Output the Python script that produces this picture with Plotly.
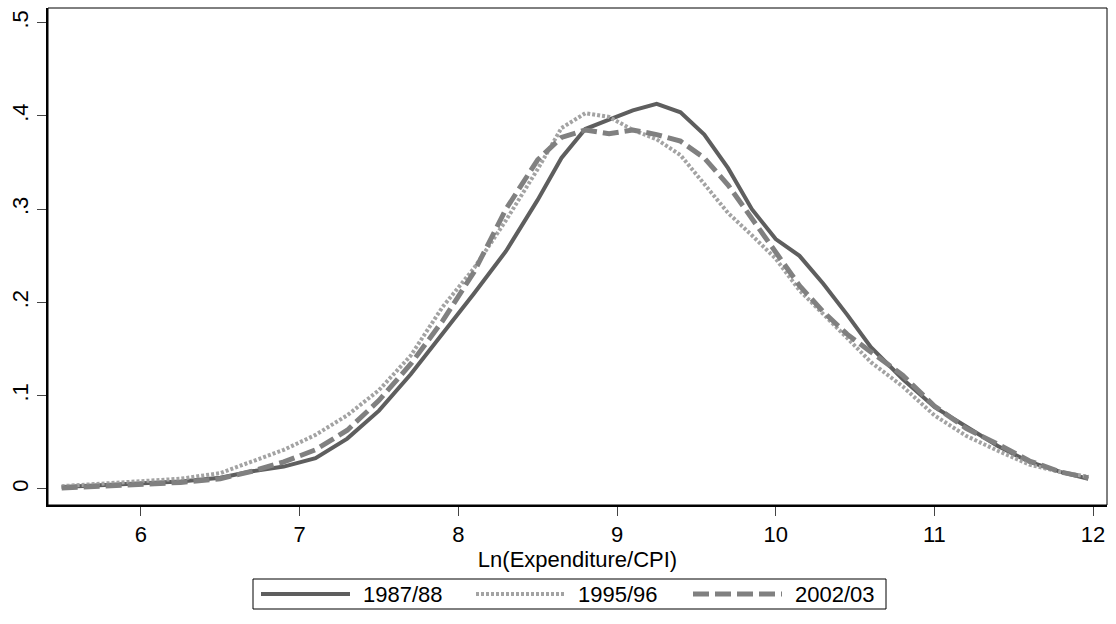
import plotly.graph_objects as go

# Kernel density estimates of log real expenditure by survey round
ln_exp = [5.5, 5.75, 6.0, 6.25, 6.5, 6.7, 6.9, 7.1, 7.3, 7.5, 7.7, 7.9, 8.1, 8.3,
          8.5, 8.65, 8.8, 8.95, 9.1, 9.25, 9.4, 9.55, 9.7, 9.85, 10.0, 10.15,
          10.3, 10.45, 10.6, 10.8, 11.0, 11.2, 11.4, 11.6, 11.8, 11.97]

dens_1987 = [0.002, 0.004, 0.006, 0.008, 0.012, 0.019, 0.024, 0.033, 0.054, 0.084,
             0.123, 0.166, 0.210, 0.255, 0.310, 0.355, 0.386, 0.396, 0.406, 0.413,
             0.404, 0.380, 0.344, 0.300, 0.268, 0.250, 0.220, 0.187, 0.152, 0.118,
             0.088, 0.067, 0.046, 0.029, 0.018, 0.011]

dens_1995 = [0.003, 0.006, 0.008, 0.011, 0.017, 0.029, 0.042, 0.058, 0.079, 0.106,
             0.143, 0.195, 0.237, 0.288, 0.343, 0.387, 0.403, 0.399, 0.385, 0.375,
             0.358, 0.327, 0.296, 0.272, 0.247, 0.213, 0.188, 0.162, 0.136, 0.110,
             0.079, 0.057, 0.041, 0.026, 0.018, 0.013]

dens_2002 = [0.001, 0.003, 0.005, 0.007, 0.011, 0.019, 0.029, 0.042, 0.063, 0.095,
             0.134, 0.180, 0.233, 0.300, 0.353, 0.377, 0.385, 0.381, 0.385, 0.380,
             0.373, 0.355, 0.326, 0.290, 0.255, 0.218, 0.190, 0.166, 0.147, 0.122,
             0.089, 0.065, 0.048, 0.030, 0.018, 0.012]

series_names = ["1987/88", "1995/96", "2002/03"]

y_ticks = [0, 0.1, 0.2, 0.3, 0.4, 0.5]
y_tick_text = ["0", ".1", ".2", ".3", ".4", ".5"]
x_ticks = [6, 7, 8, 9, 10, 11, 12]

FONT = "Liberation Sans, Arial, Helvetica, sans-serif"
FS = 22

W, H = 1116, 624
ML, MR, MT, MB = 48, 9, 8, 119
PW, PH = W - ML - MR, H - MT - MB

styles = [
    dict(color="#5e5e5e", width=4),
    dict(color="#a3a3a3", width=4, dash="3px,2px"),
    dict(color="#808080", width=5, dash="16px,6px"),
]


def px_x(px):
    return (px - ML) / PW


def px_y(py):
    return (H - MB - py) / PH


fig = go.Figure()
for name, dens, st in zip(series_names, [dens_1987, dens_1995, dens_2002], styles):
    fig.add_trace(go.Scatter(x=ln_exp, y=dens, mode="lines", name=name,
                             line=st, showlegend=False))

# Plot frame
shapes = [dict(type="rect", xref="paper", yref="paper", x0=0, y0=0, x1=1, y1=1,
               line=dict(color="black", width=1), fillcolor="rgba(0,0,0,0)")]

# Legend box with long key samples, laid out in a single row below the axis title
leg_top, leg_bot = 579, 609
leg_left, leg_right = 253, 886
leg_mid = (leg_top + leg_bot) / 2
shapes.append(dict(type="rect", xref="paper", yref="paper",
                   x0=px_x(leg_left), x1=px_x(leg_right),
                   y0=px_y(leg_bot), y1=px_y(leg_top),
                   line=dict(color="black", width=1), fillcolor="white"))
key_starts = [261, 476, 693]
key_len = 89
annotations = []
for name, st, ks in zip(series_names, styles, key_starts):
    shapes.append(dict(type="line", xref="paper", yref="paper",
                       x0=px_x(ks), x1=px_x(ks + key_len),
                       y0=px_y(leg_mid), y1=px_y(leg_mid), line=st))
    annotations.append(dict(text=name, xref="paper", yref="paper",
                            x=px_x(ks + key_len + 11), y=px_y(leg_mid),
                            xanchor="left", yanchor="middle", showarrow=False,
                            font=dict(family=FONT, size=FS, color="black")))

fig.update_layout(
    width=W, height=H,
    margin=dict(l=ML, r=MR, t=MT, b=MB),
    paper_bgcolor="white", plot_bgcolor="white",
    font=dict(family=FONT, size=FS, color="black"),
    showlegend=False,
    xaxis=dict(range=[5.414, 12.088], tickvals=x_ticks, ticks="outside", ticklen=9,
               tickwidth=1, tickcolor="#444", showgrid=False, zeroline=False,
               showline=True, linecolor="black", linewidth=2,
               title=dict(text="Ln(Expenditure/CPI)", standoff=0,
                          font=dict(size=FS))),
    yaxis=dict(range=[-0.0172, 0.5158], tickvals=y_ticks, ticktext=y_tick_text,
               ticks="outside", ticklen=9, tickwidth=1, tickcolor="#444",
               tickangle=-90, showgrid=False, zeroline=False,
               showline=True, linecolor="black", linewidth=2),
    shapes=shapes,
    annotations=annotations,
)

fig.write_html("out.html")
